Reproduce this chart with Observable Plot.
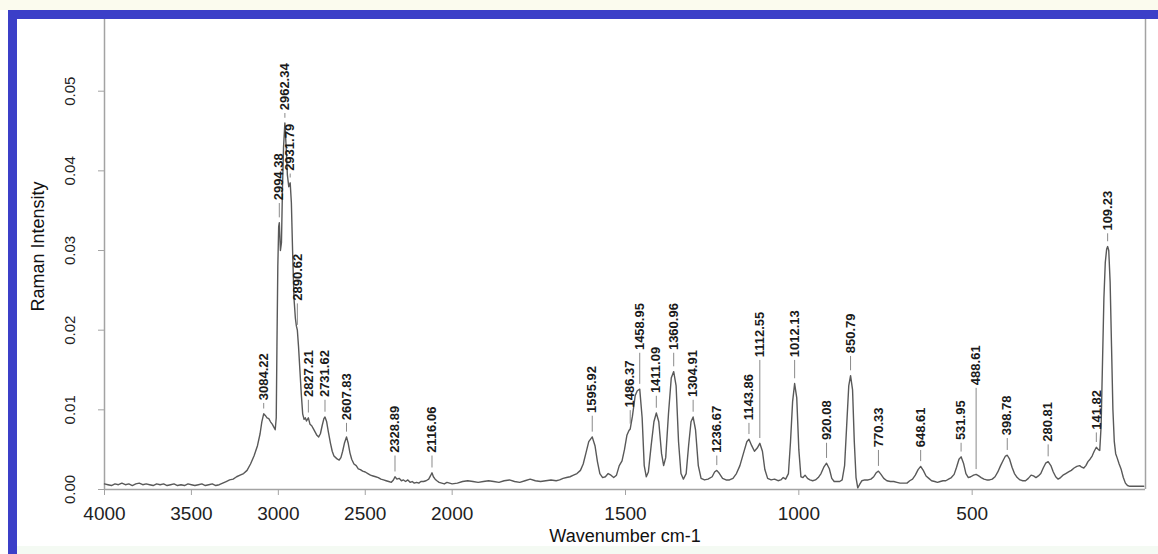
<!DOCTYPE html>
<html>
<head>
<meta charset="utf-8">
<script src="https://cdn.jsdelivr.net/npm/d3@7"></script>
<script src="https://cdn.jsdelivr.net/npm/@observablehq/plot@0.6"></script>
<style>
  html, body { margin: 0; padding: 0; background: #ffffff; }
  #page { position: relative; width: 1158px; height: 554px; overflow: hidden; background: #ffffff; }
  .band-top { position: absolute; left: 0; top: 0; width: 1158px; height: 10px; background: #fbfbee; }
  .band-bottom { position: absolute; left: 17px; top: 546px; width: 1141px; height: 8px; background: #f4faf3; }
  .bar-top { position: absolute; left: 8px; top: 10px; width: 1150px; height: 9px; background: #3b3fc8; }
  .bar-left { position: absolute; left: 8px; top: 10px; width: 9px; height: 544px; background: #3b3fc8; }
  #chart { position: absolute; left: 0; top: 0; }
</style>
</head>
<body>
<div id="page">
  <div class="band-top"></div>
  <div class="band-bottom"></div>
  <div id="chart"></div>
  <div class="bar-top"></div>
  <div class="bar-left"></div>
</div>
<script>
// Raman spectrum: wavenumber (cm-1) and intensity
const wavenumber = [
  4000, 3980, 3960, 3940, 3920, 3900, 3880, 3860, 3840, 3820, 3800, 3780, 3760, 3740, 3720, 3700,
  3680, 3660, 3640, 3620, 3600, 3580, 3560, 3540, 3520, 3500, 3480, 3460, 3440, 3420, 3400, 3380,
  3360, 3340, 3320, 3300, 3280, 3260, 3240, 3220, 3200, 3180, 3160, 3140, 3120, 3105, 3095, 3084.22,
  3075, 3065, 3055, 3045, 3035, 3025, 3018, 3012, 3008, 3003, 2998, 2994.38, 2988, 2982, 2976, 2970,
  2962.34, 2955, 2948, 2940, 2931.79, 2925, 2918, 2910, 2902, 2896, 2890.62, 2884, 2876, 2868, 2860, 2852,
  2845, 2838, 2827.21, 2818, 2808, 2798, 2788, 2778, 2768, 2758, 2748, 2738, 2731.62, 2722, 2712, 2700,
  2690, 2680, 2670, 2660, 2650, 2640, 2630, 2620, 2607.83, 2598, 2588, 2578, 2565, 2552, 2540, 2528,
  2515, 2500, 2485, 2470, 2455, 2440, 2425, 2410, 2395, 2380, 2365, 2350, 2338, 2328.89, 2318, 2305,
  2292, 2280, 2268, 2255, 2242, 2230, 2218, 2205, 2192, 2180, 2165, 2150, 2135, 2125, 2116.06, 2108,
  2098, 2088, 2075, 2060, 2045, 2030, 2015, 2000, 1985, 1970, 1955, 1940, 1925, 1910, 1895, 1880,
  1865, 1850, 1835, 1820, 1805, 1790, 1775, 1760, 1745, 1730, 1715, 1700, 1690, 1680, 1670, 1660,
  1650, 1640, 1630, 1622, 1614, 1606, 1595.92, 1588, 1581, 1574, 1566, 1558, 1550, 1542, 1534, 1526,
  1518, 1510, 1503, 1496, 1490, 1486.37, 1480, 1472, 1466, 1458.95, 1452, 1446, 1440, 1434, 1426, 1418,
  1411.09, 1404, 1396, 1390, 1384, 1376, 1368, 1360.96, 1354, 1347, 1340, 1333, 1325, 1318, 1311, 1304.91,
  1298, 1290, 1282, 1272, 1262, 1250, 1243, 1236.67, 1229, 1220, 1210, 1200, 1190, 1180, 1170, 1160,
  1150, 1143.86, 1136, 1128, 1120, 1112.55, 1105, 1098, 1090, 1080, 1070, 1060, 1052, 1045, 1038, 1030,
  1024, 1018, 1012.13, 1006, 1000, 994, 988, 982, 975, 968, 960, 952, 944, 936, 928, 920.08,
  912, 905, 898, 890, 882, 875, 868, 862, 856, 850.79, 845, 840, 835, 830, 825, 818,
  810, 800, 792, 784, 777, 770.33, 763, 755, 746, 736, 726, 717, 708, 698, 688, 680,
  672, 664, 656, 648.61, 641, 633, 625, 617, 608, 600, 592, 584, 576, 568, 560, 552,
  545, 538, 531.95, 525, 518, 511, 504, 496, 488.61, 481, 474, 466, 458, 450, 442, 434,
  426, 418, 410, 404, 398.78, 392, 385, 378, 370, 362, 354, 346, 338, 330, 323, 316,
  309, 302, 295, 288, 280.81, 273, 266, 259, 252, 245, 238, 230, 222, 214, 206, 198,
  190, 184, 178, 172, 166, 160, 154, 148, 141.82, 136, 132, 128, 124, 120, 116, 112,
  109.23, 106, 102, 98, 94, 90, 86, 82, 76, 70, 64, 58, 52, 45, 30, 15, 5
];
const intensity = [
  0.0007, 0.0006, 0.0005, 0.0007, 0.0006, 0.0008, 0.0006, 0.0007, 0.0005, 0.0007, 0.0008, 0.0006, 0.0007, 0.0006, 0.0005, 0.0007,
  0.0006, 0.0007, 0.0005, 0.0006, 0.0007, 0.0005, 0.0006, 0.0005, 0.0007, 0.0006, 0.0005, 0.0006, 0.0007, 0.0005, 0.0006, 0.0007,
  0.0005, 0.0006, 0.0008, 0.0010, 0.0012, 0.0013, 0.0016, 0.0018, 0.0020, 0.0024, 0.0032, 0.0042, 0.0055, 0.0070, 0.0085, 0.0095,
  0.0093, 0.0090, 0.0089, 0.0085, 0.0082, 0.0078, 0.0075, 0.0090, 0.0180, 0.0280, 0.0330, 0.0335, 0.0300, 0.0310, 0.0380, 0.0430,
  0.0460, 0.0430, 0.0395, 0.0380, 0.0385, 0.0360, 0.0300, 0.0240, 0.0215, 0.0205, 0.0200, 0.0180, 0.0150, 0.0120, 0.0095, 0.0088,
  0.0090, 0.0086, 0.0090, 0.0082, 0.0080, 0.0076, 0.0072, 0.0068, 0.0066, 0.0070, 0.0080, 0.0089, 0.0091, 0.0085, 0.0072, 0.0058,
  0.0048, 0.0042, 0.0040, 0.0038, 0.0037, 0.0040, 0.0048, 0.0058, 0.0066, 0.0058, 0.0046, 0.0038, 0.0032, 0.0030, 0.0026, 0.0025,
  0.0023, 0.0022, 0.0020, 0.0018, 0.0017, 0.0016, 0.0015, 0.0013, 0.0012, 0.0011, 0.0010, 0.0009, 0.0012, 0.0016, 0.0013, 0.0014,
  0.0011, 0.0012, 0.0010, 0.0012, 0.0009, 0.0010, 0.0008, 0.0009, 0.0008, 0.0010, 0.0010, 0.0011, 0.0013, 0.0017, 0.0021, 0.0016,
  0.0013, 0.0011, 0.0009, 0.0008, 0.0007, 0.0009, 0.0008, 0.0007, 0.0008, 0.0010, 0.0011, 0.0010, 0.0009, 0.0010, 0.0011, 0.0010,
  0.0009, 0.0011, 0.0012, 0.0010, 0.0009, 0.0011, 0.0013, 0.0011, 0.0010, 0.0011, 0.0012, 0.0011, 0.0012, 0.0014, 0.0015, 0.0016,
  0.0018, 0.0020, 0.0024, 0.0032, 0.0046, 0.0060, 0.0066, 0.0055, 0.0035, 0.0020, 0.0015, 0.0016, 0.0020, 0.0018, 0.0015, 0.0018,
  0.0030, 0.0036, 0.0050, 0.0068, 0.0074, 0.0076, 0.0092, 0.0118, 0.0124, 0.0126, 0.0090, 0.0030, 0.0016, 0.0022, 0.0055, 0.0085,
  0.0096, 0.0085, 0.0045, 0.0030, 0.0040, 0.0095, 0.0140, 0.0148, 0.0130, 0.0060, 0.0020, 0.0013, 0.0020, 0.0055, 0.0085, 0.0091,
  0.0075, 0.0030, 0.0014, 0.0012, 0.0013, 0.0016, 0.0022, 0.0024, 0.0020, 0.0014, 0.0012, 0.0012, 0.0014, 0.0020, 0.0030, 0.0045,
  0.0060, 0.0063, 0.0055, 0.0048, 0.0052, 0.0058, 0.0048, 0.0025, 0.0014, 0.0012, 0.0013, 0.0011, 0.0012, 0.0015, 0.0013, 0.0020,
  0.0060, 0.0110, 0.0133, 0.0115, 0.0050, 0.0016, 0.0015, 0.0018, 0.0014, 0.0012, 0.0011, 0.0012, 0.0015, 0.0020, 0.0028, 0.0033,
  0.0026, 0.0014, 0.0010, 0.0010, 0.0010, 0.0012, 0.0030, 0.0080, 0.0130, 0.0143, 0.0125, 0.0060, 0.0015, 0.0002, 0.0006, 0.0011,
  0.0012, 0.0012, 0.0013, 0.0016, 0.0021, 0.0023, 0.0019, 0.0014, 0.0011, 0.0010, 0.0010, 0.0009, 0.0008, 0.0008, 0.0008, 0.0011,
  0.0013, 0.0018, 0.0025, 0.0029, 0.0024, 0.0017, 0.0014, 0.0011, 0.0010, 0.0009, 0.0010, 0.0011, 0.0011, 0.0013, 0.0015, 0.0019,
  0.0028, 0.0038, 0.0041, 0.0033, 0.0020, 0.0015, 0.0016, 0.0018, 0.0019, 0.0017, 0.0015, 0.0013, 0.0012, 0.0012, 0.0013, 0.0016,
  0.0022, 0.0030, 0.0037, 0.0042, 0.0043, 0.0038, 0.0028, 0.0020, 0.0015, 0.0012, 0.0011, 0.0011, 0.0014, 0.0018, 0.0017, 0.0015,
  0.0017, 0.0020, 0.0027, 0.0033, 0.0035, 0.0030, 0.0022, 0.0016, 0.0013, 0.0015, 0.0018, 0.0020, 0.0022, 0.0024, 0.0027, 0.0029,
  0.0030, 0.0028, 0.0027, 0.0030, 0.0035, 0.0038, 0.0042, 0.0048, 0.0053, 0.0050, 0.0049, 0.0080, 0.0160, 0.0240, 0.0285, 0.0302,
  0.0305, 0.0300, 0.0260, 0.0180, 0.0100, 0.0060, 0.0045, 0.0040, 0.0032, 0.0025, 0.0015, 0.0008, 0.0005, 0.0004, 0.0004, 0.0004, 0.0004
];

// Annotated peaks and the height at which each label text begins
const peakWavenumber = [
  3084.22, 2994.38, 2962.34, 2931.79, 2890.62, 2827.21, 2731.62, 2607.83, 2328.89, 2116.06,
  1595.92, 1486.37, 1458.95, 1411.09, 1360.96, 1304.91, 1236.67, 1143.86, 1112.55, 1012.13,
  920.08, 850.79, 770.33, 648.61, 531.95, 488.61, 398.78, 280.81, 141.82, 109.23
];
const labelHeight = [
  0.0112, 0.0363, 0.0476, 0.0400, 0.0237, 0.0116, 0.0116, 0.0087, 0.0046, 0.0046,
  0.0096, 0.0103, 0.0175, 0.0121, 0.0175, 0.0116, 0.0046, 0.0087, 0.0166, 0.0166,
  0.0062, 0.0171, 0.0053, 0.0053, 0.0062, 0.0131, 0.0068, 0.0060, 0.0075, 0.0325
];

const xTicks = [4000, 3500, 3000, 2500, 2000, 1500, 1000, 500];
const yTicks = [0, 0.01, 0.02, 0.03, 0.04, 0.05];

const spectrum = wavenumber.map((w, i) => ({w, v: intensity[i]}));
const peaks = peakWavenumber.map((w, i) => ({
  w,
  v: intensity[wavenumber.indexOf(w)],
  at: labelHeight[i],
  label: w.toFixed(2)
}));

const axisGrey = "#a3a3a3";
const font = "'Liberation Sans', Arial, Helvetica, sans-serif";

const chart = Plot.plot({
  width: 1158,
  height: 554,
  marginLeft: 104,
  marginRight: 13,
  marginTop: 19,
  marginBottom: 65,
  style: {background: "transparent", fontFamily: font, color: "#222"},
  // the fingerprint region below 2000 cm-1 is drawn at twice the scale of the high region
  x: {type: "linear", domain: [4000, 2000, 1000, 0], range: [104, 451.67, 798.33, 1145]},
  y: {domain: [0, 0.059]},
  marks: [
    Plot.ruleX([4000, 0], {stroke: axisGrey, strokeWidth: 1.5}),
    Plot.ruleY([0], {stroke: axisGrey, strokeWidth: 1.5}),
    Plot.axisX({ticks: xTicks, tickSize: 6, tickFormat: () => "", label: null, stroke: axisGrey}),
    Plot.axisY({ticks: yTicks, tickSize: 6, tickFormat: () => "", label: null, stroke: axisGrey}),
    Plot.text(xTicks, {x: d => d, y: 0, dy: 24, text: d => String(d), fontSize: 19, fill: "#222"}),
    Plot.text(yTicks, {x: 4000, y: d => d, dx: -34, rotate: -90, text: d => d.toFixed(2), fontSize: 15, fill: "#222"}),
    Plot.text(["Wavenumber cm-1"], {frameAnchor: "bottom", dy: 52, fontSize: 18, fill: "#111"}),
    Plot.text(["Raman Intensity"], {frameAnchor: "left", textAnchor: "middle", dx: -66, dy: -8, rotate: -90, fontSize: 18, fill: "#111"}),
    Plot.line(spectrum, {x: "w", y: "v", stroke: "#595959", strokeWidth: 1.4}),
    Plot.ruleX(peaks, {x: "w", y1: d => d.v + 0.0006, y2: d => d.at - 0.0004, stroke: "#8a8a8a", strokeWidth: 1}),
    Plot.text(peaks, {x: "w", y: "at", text: "label", rotate: -90, textAnchor: "start", fontSize: 13, fontWeight: "bold", fill: "#1a1a1a"})
  ]
});

document.getElementById("chart").appendChild(chart);
</script>
</body>
</html>
